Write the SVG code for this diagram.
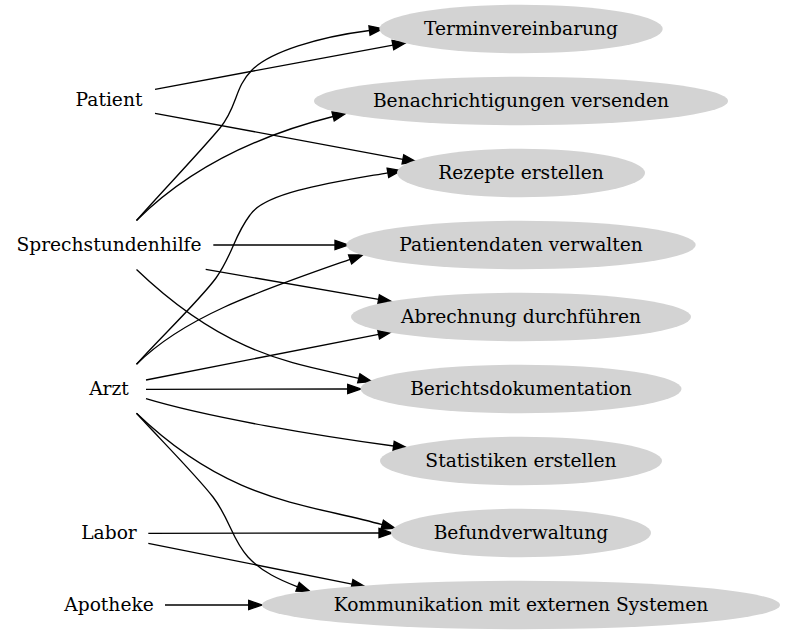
<svg xmlns="http://www.w3.org/2000/svg" width="787" height="635" viewBox="0 0 787 635">
<style>
text{font-family:"DejaVu Serif","Liberation Serif",serif;font-size:18.67px;text-anchor:middle;fill:#000}
.uc{fill:#d3d3d3;stroke:none}
.e{fill:none;stroke:#000;stroke-width:1.33;marker-end:url(#ah)}
</style>
<defs>
<marker id="ah" markerUnits="userSpaceOnUse" markerWidth="16" markerHeight="12" refX="0" refY="0" orient="auto" viewBox="0 -6 16 12" overflow="visible">
<path d="M0,-4.67 L13.33,0 L0,4.67 Z" fill="#000" stroke="#000" stroke-width="1.33"/>
</marker>
</defs>
<rect width="787" height="635" fill="#fff"/>
<g id="edges">
<path class="e" d="M155,89.3 L392.9,45.1"/>
<path class="e" d="M155,113.3 L402.9,159.3"/>
<path class="e" d="M136.5,220.5 C157,197 200,152 220,128 C238,106 234,88 252,70 C270,52 318,37 369.5,30.5"/>
<path class="e" d="M136.5,220.5 C185,172 252,137 333.1,116.5"/>
<path class="e" d="M213.3,245 L335,245"/>
<path class="e" d="M205.7,269.3 L378.6,299.4"/>
<path class="e" d="M136.5,269.5 C230.1,359.2 300.6,363.9 358.8,378.3"/>
<path class="e" d="M136.5,364.3 C157,341 200,300 216,278 C233,254 234,236 250,215 C265,192 335,182 387.9,172.8"/>
<path class="e" d="M136.5,364.3 C185,316 260.4,290.8 350.1,259.4"/>
<path class="e" d="M146,380 L378.6,334.3"/>
<path class="e" d="M146,389.3 L347.7,389"/>
<path class="e" d="M146,398.7 C210,418 320,436 393.6,446"/>
<path class="e" d="M136.5,413.3 C230.1,503 305.4,503.1 382.2,524.7"/>
<path class="e" d="M136.5,413.3 C158,437 195,474 213,497 C230,519 232,540 248,557 C262,572 280,580 297.6,586.8"/>
<path class="e" d="M148.3,533.3 L379,533"/>
<path class="e" d="M148.3,543.3 L352,584.1"/>
<path class="e" d="M165,605 L248.7,605"/>
</g>
<g id="Patient"><text x="109" y="106">Patient</text></g>
<g id="Sprechstundenhilfe"><text x="109" y="250.8">Sprechstundenhilfe</text></g>
<g id="Arzt"><text x="109" y="394.8">Arzt</text></g>
<g id="Labor"><text x="109" y="538.8">Labor</text></g>
<g id="Apotheke"><text x="109" y="610.8">Apotheke</text></g>
<g id="Terminvereinbarung"><ellipse class="uc" cx="521" cy="29" rx="141.7" ry="24.3"/><text x="521" y="34.8">Terminvereinbarung</text></g>
<g id="Benachrichtigungen"><ellipse class="uc" cx="521" cy="101" rx="207" ry="24.3"/><text x="521" y="106.8">Benachrichtigungen versenden</text></g>
<g id="Rezepte"><ellipse class="uc" cx="521" cy="173" rx="124" ry="24.3"/><text x="521" y="178.8">Rezepte erstellen</text></g>
<g id="Patientendaten"><ellipse class="uc" cx="521" cy="245" rx="174.7" ry="24.3"/><text x="521" y="250.8">Patientendaten verwalten</text></g>
<g id="Abrechnung"><ellipse class="uc" cx="521" cy="317" rx="170" ry="24.3"/><text x="521" y="322.8">Abrechnung durchführen</text></g>
<g id="Berichtsdokumentation"><ellipse class="uc" cx="521" cy="389" rx="160.5" ry="24.3"/><text x="521" y="394.8">Berichtsdokumentation</text></g>
<g id="Statistiken"><ellipse class="uc" cx="521" cy="461" rx="141" ry="24.3"/><text x="521" y="466.8">Statistiken erstellen</text></g>
<g id="Befundverwaltung"><ellipse class="uc" cx="521" cy="533" rx="130" ry="24.3"/><text x="521" y="538.8">Befundverwaltung</text></g>
<g id="Kommunikation"><ellipse class="uc" cx="521" cy="605" rx="259" ry="24.3"/><text x="521" y="610.8">Kommunikation mit externen Systemen</text></g>
</svg>
